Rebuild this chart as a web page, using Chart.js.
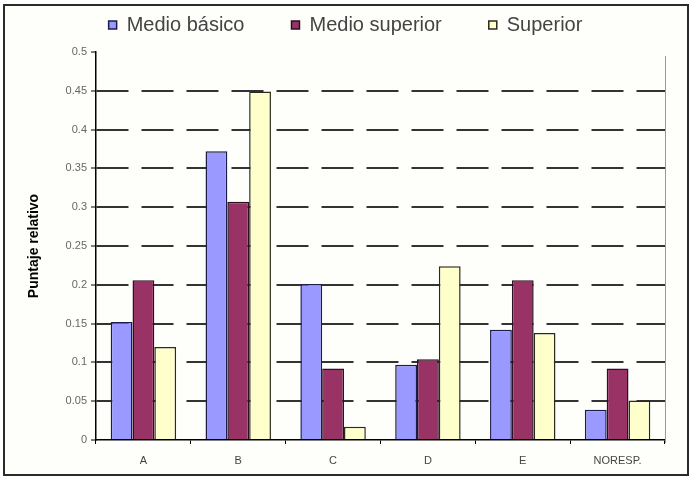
<!DOCTYPE html>
<html>
<head>
<meta charset="utf-8">
<script src="https://cdn.jsdelivr.net/npm/chart.js@4/dist/chart.umd.min.js"></script>
<style>
  html, body { margin: 0; padding: 0; background: #ffffff; }
  #wrap { width: 691px; height: 484px; }
</style>
</head>
<body>
<div id="wrap"><canvas id="c" width="691" height="484"></canvas></div>
<script>
const categories = ['A', 'B', 'C', 'D', 'E', 'NORESP.'];
const seriesNames = ['Medio básico', 'Medio superior', 'Superior'];
const medioBasico = [0.152, 0.372, 0.201, 0.097, 0.142, 0.039];
const medioSuperior = [0.206, 0.307, 0.092, 0.104, 0.206, 0.092];
const superior = [0.120, 0.449, 0.017, 0.224, 0.138, 0.051];
const yTickLabels = ['0', '0.05', '0.1', '0.15', '0.2', '0.25', '0.3', '0.35', '0.4', '0.45', '0.5'];
const yAxisTitle = 'Puntaje relativo';

const FONT = "'Liberation Sans', Arial, sans-serif";

const frame = {
  id: 'frame',
  beforeDraw(chart) {
    const ctx = chart.ctx;
    ctx.save();
    ctx.fillStyle = '#ffffff';
    ctx.fillRect(0, 0, chart.width, chart.height);
    ctx.fillStyle = '#fefefb';
    ctx.fillRect(5, 6, 683, 468);
    ctx.restore();
  },
  afterDraw(chart) {
    const ctx = chart.ctx;
    const a = chart.chartArea;
    ctx.save();
    ctx.strokeStyle = '#9a9a9a';
    ctx.lineWidth = 1;
    ctx.beginPath();
    ctx.moveTo(a.right + 0.5, a.top + 4);
    ctx.lineTo(a.right + 0.5, a.bottom + 3);
    ctx.stroke();
    ctx.strokeStyle = '#2a2a2a';
    ctx.lineWidth = 2;
    ctx.strokeRect(4, 5, 684, 470);
    ctx.restore();
  }
};

new Chart(document.getElementById('c'), {
  type: 'bar',
  data: {
    labels: categories,
    datasets: [
      { label: seriesNames[0], data: medioBasico, backgroundColor: '#9999ff', borderColor: '#1c1c48', borderWidth: 1.5 },
      { label: seriesNames[1], data: medioSuperior, backgroundColor: '#993366', borderColor: '#2a1020', borderWidth: 1.5 },
      { label: seriesNames[2], data: superior, backgroundColor: '#ffffcc', borderColor: '#2a2a20', borderWidth: 1.5 }
    ]
  },
  options: {
    responsive: false,
    animation: false,
    devicePixelRatio: 1,
    layout: { padding: { top: -32, left: 26, right: 26, bottom: 0 } },
    datasets: { bar: { categoryPercentage: 0.69, barPercentage: 1.0 } },
    plugins: {
      legend: {
        display: true,
        position: 'top',
        labels: {
          boxWidth: 8,
          boxHeight: 8,
          padding: 47,
          color: '#444444',
          font: { family: FONT, size: 20 }
        }
      },
      subtitle: {
        display: true,
        text: '',
        weight: 500,
        font: { size: 1, lineHeight: 1 },
        padding: { top: 0, bottom: 6 }
      },
      title: { display: false },
      tooltip: { enabled: false }
    },
    scales: {
      x: {
        offset: true,
        grid: {
          display: true,
          drawOnChartArea: false,
          drawTicks: true,
          tickLength: 4,
          offset: true,
          tickColor: '#000000',
          tickWidth: 1
        },
        border: { display: true, color: '#000000', width: 1.5 },
        ticks: {
          color: '#444444',
          font: { family: FONT, size: 11 },
          padding: 10,
          maxRotation: 0
        },
        afterFit(scale) { scale.height = 44; }
      },
      y: {
        min: 0,
        max: 0.5,
        ticks: {
          stepSize: 0.05,
          color: '#666666',
          font: { family: FONT, size: 11 },
          padding: 4,
          callback: (value, index) => yTickLabels[index]
        },
        grid: {
          color: (ctx) => (ctx.tick && (ctx.tick.value > 0.499 || ctx.tick.value < 0.001)) ? 'rgba(0,0,0,0)' : '#333333',
          lineWidth: 2,
          drawTicks: true,
          tickLength: 5,
          tickColor: '#000000',
          tickWidth: 1,
          tickBorderDash: []
        },
        border: { display: true, color: '#000000', width: 1.5, dash: [32, 13], dashOffset: 0 },
        title: {
          display: true,
          text: yAxisTitle,
          color: '#000000',
          font: { family: FONT, size: 14, weight: 'bold' },
          padding: 0
        },
        afterFit(scale) { scale.width = 70; }
      }
    }
  },
  plugins: [frame]
});
</script>
</body>
</html>
